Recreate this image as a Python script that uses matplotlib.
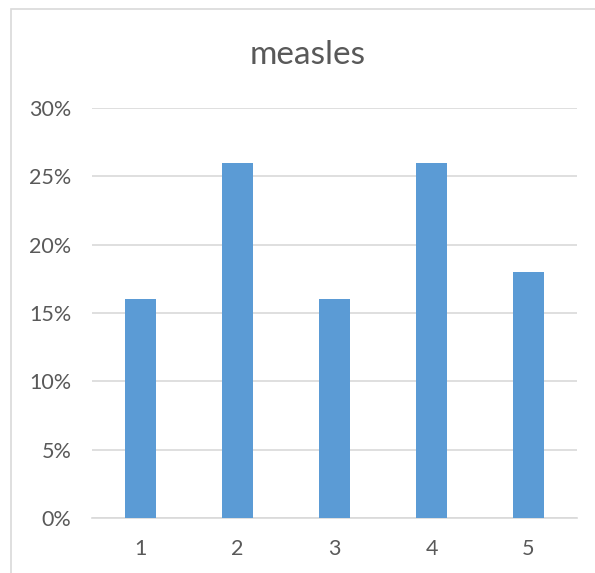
import matplotlib
matplotlib.use('Agg')
import matplotlib.pyplot as plt
from matplotlib.patches import Rectangle
from matplotlib.ticker import PercentFormatter

categories = ['1', '2', '3', '4', '5']
rates = [0.16, 0.26, 0.16, 0.26, 0.18]
y_ticks = [0.0, 0.05, 0.10, 0.15, 0.20, 0.25, 0.30]

plt.rcParams['font.family'] = ['Lato', 'DejaVu Sans']
text_grey = '#595959'
grid_grey = '#D9D9D9'

fig = plt.figure(figsize=(5.95, 5.73), dpi=100)
ax = fig.add_axes([92 / 595, 1 - 518 / 573, 485 / 595, 410 / 573])

x = range(len(categories))
ax.bar(x, rates, width=0.32, color='#5B9BD5', zorder=3)

ax.set_xlim(-0.5, len(categories) - 0.5)
ax.set_ylim(0, 0.30)
ax.set_xticks(list(x))
ax.set_xticklabels(categories)
ax.set_yticks(y_ticks)
ax.yaxis.set_major_formatter(PercentFormatter(1.0, decimals=0))
ax.tick_params(axis='both', length=0, labelsize=15.5, colors=text_grey)
ax.tick_params(axis='y', pad=15)
ax.tick_params(axis='x', pad=15)
ax.grid(axis='y', color=grid_grey, linewidth=1.2, zorder=0)
for side in ('top', 'right', 'left'):
    ax.spines[side].set_visible(False)
ax.spines['bottom'].set_color(grid_grey)
ax.spines['bottom'].set_linewidth(1.2)

fig.text(308 / 595, 1 - 55 / 573, 'measles', ha='center', va='center',
         fontsize=24, color=text_grey)

# chart frame, partly outside the canvas
frame = Rectangle((11 / 595, -0.05), 1.2, 1 - 9.5 / 573 + 0.05,
                  transform=fig.transFigure, fill=False,
                  edgecolor=grid_grey, linewidth=1.2)
fig.patches.append(frame)

fig.savefig('out.png', dpi=100)
